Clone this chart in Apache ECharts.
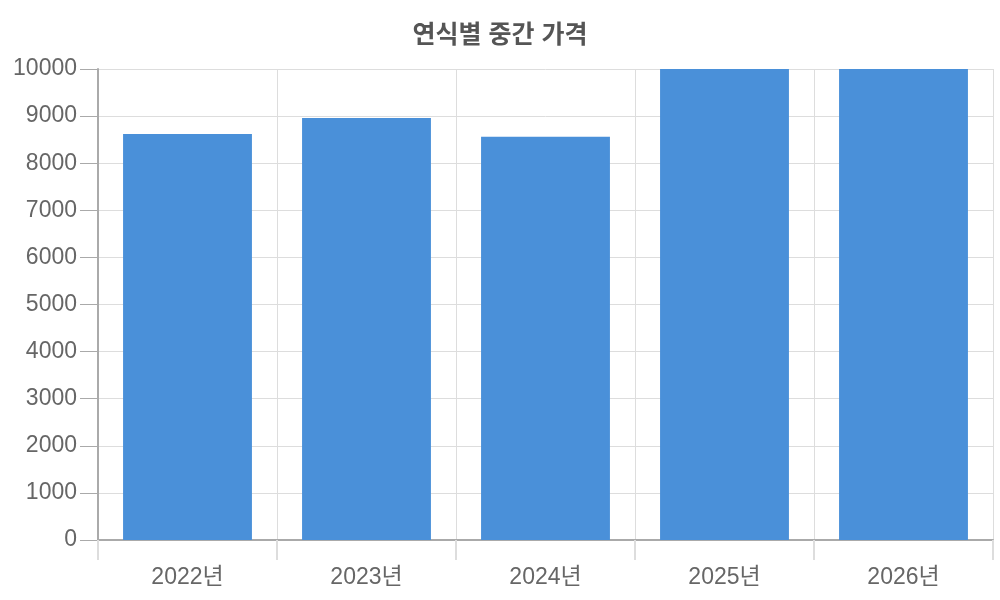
<!DOCTYPE html>
<html><head><meta charset="utf-8">
<script src="https://cdn.jsdelivr.net/npm/echarts@6/dist/echarts.min.js"></script>
<style>html,body{margin:0;padding:0;background:#fff}#c{width:1000px;height:600px}</style>
</head><body><div id="c"></div>
<script>
const categories = ['2022년','2023년','2024년','2025년','2026년'];
const medianPrices = [8620, 8960, 8560, 12000, 12000];
const yTicks = {min: 0, max: 10000, interval: 1000};

const chart = echarts.init(document.getElementById('c'));
chart.setOption({
  animation: false,
  title: {
    text: '연식별 중간 가격', left: 'center', top: 19,
    textStyle: {fontFamily: 'Liberation Sans, Noto Sans CJK KR', fontSize: 25, fontWeight: 'bold', color: '#555'}
  },
  grid: {left: 98, right: 7, top: 69, bottom: 60, containLabel: false},
  xAxis: {
    type: 'category', data: categories,
    axisLine: {lineStyle: {color: '#aaa', width: 2}},
    axisTick: {show: true, length: 20, lineStyle: {color: '#ddd', width: 2}},
    splitLine: {show: true, lineStyle: {color: '#ddd', width: 1}},
    axisLabel: {fontFamily: 'Liberation Sans, Noto Sans CJK KR', fontSize: 23, color: '#666', margin: 26}
  },
  yAxis: {
    type: 'value', min: yTicks.min, max: yTicks.max, interval: yTicks.interval,
    axisLine: {show: true, lineStyle: {color: '#aaa', width: 2}},
    axisTick: {show: true, length: 18, lineStyle: {color: '#aaa', width: 1}},
    splitLine: {show: true, lineStyle: {color: '#ddd', width: 1}},
    axisLabel: {fontFamily: 'Liberation Sans', fontSize: 23, color: '#666', margin: 21,
      formatter: v => String(v)}
  },
  series: [{
    type: 'bar', data: medianPrices, clip: true,
    barCategoryGap: '28%',
    itemStyle: {color: '#4a90d9'}
  }]
});
</script></body></html>
